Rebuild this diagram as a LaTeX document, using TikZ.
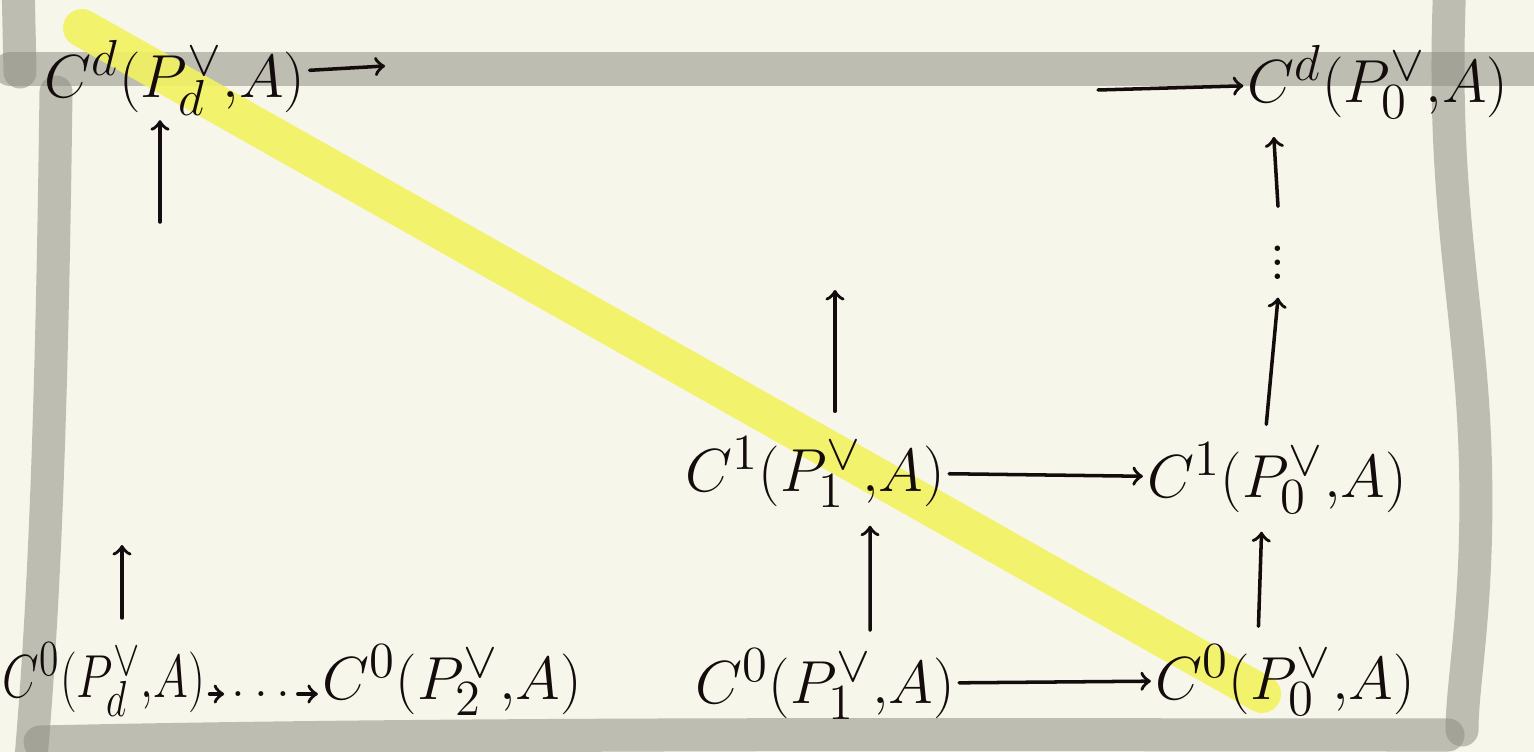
\documentclass[tikz,border=0pt]{standalone}
\usepackage{tikz}
\usepackage{xcolor}
\usepackage{graphicx}
\definecolor{vizPaper}{HTML}{F7F6EA}
\definecolor{vizFrame}{HTML}{8F8F84}
\definecolor{vizMark}{HTML}{F3F260}
\definecolor{vizInk}{HTML}{140C0C}
\usetikzlibrary{calc}

\tikzset{
  term/.style={text=vizInk, font=\fontsize{19}{23}\selectfont, inner sep=1pt},
  map/.style={->, draw=vizInk, line width=1pt, line cap=round},
  frame/.style={draw=vizFrame, draw opacity=0.55, line width=0.33cm, line cap=round, line join=round},
}

\begin{document}
\begin{tikzpicture}[x=0.01cm, y=-0.01cm]
  \useasboundingbox (0,0) rectangle (1534,752);
  \fill[vizPaper] (0,0) rectangle (1534,752);

  % frame strokes
  \draw[frame] (18,-20) -- (20,72);
  \draw[frame] (10,69) -- (1560,69);
  \draw[frame] (56,92) .. controls (52,400) and (45,600) .. (30,770);
  \draw[frame] (40,742) .. controls (500,732) and (1000,735) .. (1448,735);
  \draw[frame] (1450,-20) .. controls (1440,200) and (1470,300) .. (1475,450)
    .. controls (1480,600) and (1462,680) .. (1462,730);

  % highlight
  \draw[vizMark, draw opacity=0.9, line width=0.38cm, line cap=round] (82,28) -- (1262,694);

  % terms
  \node[term] (tl) at (175,78) {$C^d(P^\vee_d{,}A)$};
  \node[term] (tr) at (1378,82) {$C^d(P^\vee_0{,}A)$};
  \node[term] (m1) at (815,472) {$C^1(P^\vee_1{,}A)$};
  \node[term] (r1) at (1277,478) {$C^1(P^\vee_0{,}A)$};
  \node[term] (bl) at (104,680) {\scalebox{0.78}[1]{$C^0(P^\vee_d{,}A)$}};
  \node[term, font=\fontsize{14}{16}\selectfont, inner sep=0pt] (dt) at (261,694) {$\ldots$};
  \node[term] (b2) at (452,680) {$C^0(P^\vee_2{,}A)$};
  \node[term] (b1) at (825,684) {$C^0(P^\vee_1{,}A)$};
  \node[term] (b0) at (1285,680) {$C^0(P^\vee_0{,}A)$};
  \node[term, inner sep=5pt] (vd) at (1278,252) {$\vdots$};

  \coordinate (tlout) at (385,66);
  \coordinate (trin) at (1098,90);
  \coordinate (tlup) at (160,222);
  \coordinate (m1up) at (835,290);
  \coordinate (blup) at (122,545);

  % maps
  \draw[map] (tl) -- (tlout);
  \draw[map] (trin) -- (tr);
  \draw[map] (tlup) -- (tl.south -| tlup);
  \draw[map, shorten <=6pt] (m1.north -| m1up) -- (m1up);
  \draw[map] (m1) -- (r1);
  \draw[map, shorten <=6pt] (bl.north -| blup) -- (blup);
  \draw[map, shorten >=2pt] (bl.east |- dt) -- (dt);
  \draw[map, shorten <=2pt] (dt) -- (b2.west |- dt);
  \draw[map] (b1) -- (b0);
  \draw[map, shorten <=4pt, shorten >=4pt] ([xshift=0.45cm]b1.north) -- ([xshift=0.55cm]m1.south);
  \draw[map, shorten <=4pt, shorten >=4pt] ([xshift=-0.27cm]b0.north) -- ([xshift=-0.15cm]r1.south);
  \draw[map, shorten <=4pt] ([xshift=-0.12cm]r1.north) -- (vd.south);
  \draw[map, shorten >=4pt] (vd.north) -- ([xshift=-1.05cm]tr.south);
\end{tikzpicture}
\end{document}
